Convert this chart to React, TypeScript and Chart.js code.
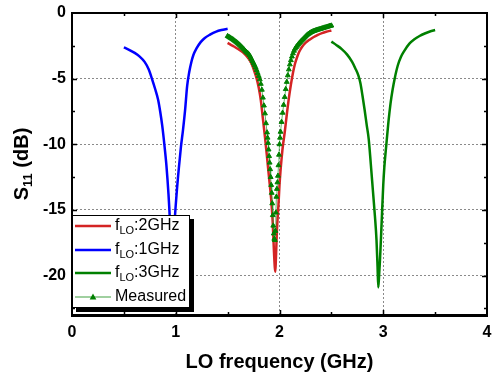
import React, { useEffect, useRef } from "react";
import { Chart, registerables } from "chart.js";

Chart.register(...registerables);

// ---- data (GHz, dB) ----
const freq2G = [1.5, 1.55, 1.6, 1.65, 1.7, 1.73, 1.76, 1.78, 1.8, 1.82, 1.84, 1.86, 1.88, 1.9, 1.92, 1.935, 1.945, 1.955, 1.96, 1.965, 1.975, 1.99, 2.0, 2.01, 2.02, 2.03, 2.05, 2.07, 2.09, 2.11, 2.13, 2.15, 2.17, 2.19, 2.22, 2.25, 2.29, 2.33, 2.37, 2.41, 2.45, 2.5];
const s11_2G = [-2.27, -2.5, -2.74, -3.02, -3.45, -3.85, -4.5, -5.0, -5.7, -6.65, -8.05, -9.45, -11.0, -12.6, -14.2, -16.0, -17.9, -19.4, -19.7, -18.8, -16.6, -14.6, -13.1, -12.0, -11.1, -10.3, -9.1, -7.75, -6.5, -5.45, -4.55, -3.85, -3.35, -2.95, -2.55, -2.28, -2.03, -1.83, -1.66, -1.53, -1.43, -1.33];

const freq1G = [0.5, 0.55, 0.6, 0.65, 0.7, 0.74, 0.77, 0.8, 0.83, 0.85, 0.87, 0.89, 0.91, 0.93, 0.945, 0.955, 0.965, 0.975, 0.99, 1.01, 1.03, 1.05, 1.07, 1.09, 1.11, 1.13, 1.15, 1.17, 1.2, 1.24, 1.28, 1.33, 1.39, 1.44, 1.5];
const s11_1G = [-2.62, -2.8, -3.02, -3.3, -3.72, -4.3, -5.0, -5.75, -6.6, -7.5, -8.6, -10.0, -11.6, -13.8, -16.0, -18.0, -19.8, -18.2, -15.8, -13.6, -11.8, -10.2, -8.9, -7.4, -5.55, -4.5, -3.75, -3.2, -2.7, -2.22, -1.9, -1.65, -1.42, -1.3, -1.2];

const freq3G = [2.5, 2.55, 2.6, 2.65, 2.7, 2.73, 2.76, 2.78, 2.8, 2.82, 2.84, 2.86, 2.88, 2.9, 2.92, 2.935, 2.945, 2.952, 2.96, 2.968, 2.98, 2.99, 3.0, 3.01, 3.03, 3.05, 3.07, 3.09, 3.11, 3.14, 3.17, 3.2, 3.25, 3.3, 3.35, 3.4, 3.45, 3.5];
const s11_3G = [-2.18, -2.45, -2.75, -3.15, -3.72, -4.2, -4.75, -5.35, -6.3, -7.35, -8.5, -9.6, -11.5, -13.5, -15.5, -17.3, -19.3, -20.9, -20.0, -18.9, -16.8, -14.9, -13.1, -11.8, -10.0, -8.3, -6.9, -5.85, -5.0, -4.0, -3.35, -2.92, -2.35, -2.0, -1.75, -1.56, -1.41, -1.3];

const freqMeas = [1.5, 1.51, 1.52, 1.53, 1.54, 1.55, 1.56, 1.57, 1.58, 1.59, 1.6, 1.61, 1.62, 1.63, 1.64, 1.65, 1.66, 1.67, 1.68, 1.69, 1.7, 1.71, 1.72, 1.73, 1.74, 1.75, 1.76, 1.77, 1.78, 1.79, 1.8, 1.81, 1.82, 1.83, 1.84, 1.85, 1.86, 1.87, 1.88, 1.885, 1.89, 1.895, 1.9, 1.905, 1.91, 1.915, 1.92, 1.925, 1.93, 1.935, 1.94, 1.945, 1.95, 1.955, 1.96, 1.965, 1.97, 1.975, 1.98, 1.985, 1.99, 1.995, 2.0, 2.005, 2.01, 2.02, 2.03, 2.04, 2.05, 2.06, 2.07, 2.08, 2.09, 2.1, 2.11, 2.12, 2.13, 2.14, 2.15, 2.16, 2.17, 2.18, 2.19, 2.2, 2.21, 2.22, 2.23, 2.24, 2.25, 2.26, 2.27, 2.28, 2.29, 2.3, 2.31, 2.32, 2.33, 2.34, 2.35, 2.36, 2.37, 2.38, 2.39, 2.4, 2.41, 2.42, 2.43, 2.44, 2.45, 2.46, 2.47, 2.48, 2.49, 2.5];
const s11Meas = [-1.76, -1.81, -1.86, -1.91, -1.96, -2.01, -2.07, -2.13, -2.19, -2.26, -2.33, -2.4, -2.47, -2.55, -2.63, -2.71, -2.79, -2.88, -2.96, -3.03, -3.1, -3.2, -3.34, -3.5, -3.66, -3.82, -3.98, -4.15, -4.35, -4.57, -4.8, -5.06, -5.4, -5.85, -6.45, -7.05, -7.65, -8.4, -9.1, -9.5, -9.9, -10.4, -10.9, -11.4, -11.9, -12.5, -13.1, -13.7, -14.5, -15.4, -16.2, -16.8, -17.2, -17.3, -16.6, -15.2, -14.0, -13.4, -12.9, -12.4, -11.6, -10.8, -10.0, -9.5, -9.05, -8.3, -7.6, -7.0, -6.4, -5.8, -5.25, -4.75, -4.3, -3.92, -3.6, -3.32, -3.08, -2.88, -2.72, -2.6, -2.5, -2.4, -2.3, -2.21, -2.12, -2.04, -1.96, -1.88, -1.8, -1.72, -1.65, -1.59, -1.54, -1.49, -1.45, -1.41, -1.38, -1.35, -1.32, -1.29, -1.27, -1.25, -1.22, -1.2, -1.17, -1.15, -1.12, -1.1, -1.08, -1.05, -1.03, -1.0, -0.98, -0.96];

const xTicks = [0, 1, 2, 3, 4];
const yTicks = [0, -5, -10, -15, -20];
const xTickMarks = [0.5, 1, 1.5, 2, 2.5, 3, 3.5];
const yTickMarks = [-2.5, -5, -7.5, -10, -12.5, -15, -17.5, -20, -22.5];

const xTitle = "LO frequency (GHz)";
const yTitleMain = "S";
const yTitleSub = "11";
const yTitleRest = " (dB)";

const legendItems = [
  { main: "f", sub: "LO", rest: ":2GHz", color: "#d42424", marker: false },
  { main: "f", sub: "LO", rest: ":1GHz", color: "#0000ff", marker: false },
  { main: "f", sub: "LO", rest: ":3GHz", color: "#008000", marker: false },
  { main: "Measured", sub: "", rest: "", color: "#80c080", marker: true },
];

const FONT = "'Liberation Sans', Arial, sans-serif";

function pts(xs: number[], ys: number[]) {
  return xs.map((v, i) => ({ x: v, y: ys[i] }));
}

function drawTriangle(ctx: CanvasRenderingContext2D, x: number, y: number, r: number) {
  ctx.beginPath();
  ctx.moveTo(x, y - r);
  ctx.lineTo(x + r * 0.95, y + r * 0.7);
  ctx.lineTo(x - r * 0.95, y + r * 0.7);
  ctx.closePath();
  ctx.fill();
}

const overlayPlugin = {
  id: "overlay",
  afterDraw(chart: any) {
    const ctx: CanvasRenderingContext2D = chart.ctx;
    const a = chart.chartArea;
    const xs = chart.scales.x;
    const ys = chart.scales.y;
    ctx.save();
    ctx.strokeStyle = "#000";
    ctx.lineWidth = 1.5;
    // inward tick marks
    for (const v of xTickMarks) {
      const px = Math.round(xs.getPixelForValue(v)) + 0.5;
      const len = Number.isInteger(v) ? 5 : 3;
      ctx.beginPath();
      ctx.moveTo(px, a.top);
      ctx.lineTo(px, a.top + len);
      ctx.moveTo(px, a.bottom);
      ctx.lineTo(px, a.bottom - len);
      ctx.stroke();
    }
    for (const v of yTickMarks) {
      const py = Math.round(ys.getPixelForValue(v)) + 0.5;
      const len = v % 5 === 0 ? 5 : 3;
      ctx.beginPath();
      ctx.moveTo(a.left, py);
      ctx.lineTo(a.left + len, py);
      ctx.moveTo(a.right, py);
      ctx.lineTo(a.right - len, py);
      ctx.stroke();
    }
    // frame
    ctx.lineWidth = 2;
    ctx.strokeRect(a.left, a.top, a.right - a.left, a.bottom - a.top);
    ctx.lineWidth = 3;
    ctx.beginPath();
    ctx.moveTo(a.left - 1, a.bottom + 0.5);
    ctx.lineTo(a.right + 1, a.bottom + 0.5);
    ctx.stroke();

    // legend
    const lx = a.left;
    const ly = 215;
    const lw = 117;
    const lh = 92;
    ctx.fillStyle = "#000";
    ctx.fillRect(lx + 4, ly + 4, lw + 1, lh + 1);
    ctx.fillStyle = "#fff";
    ctx.fillRect(lx, ly, lw, lh);
    ctx.lineWidth = 1;
    ctx.strokeStyle = "#000";
    ctx.strokeRect(lx + 0.5, ly + 0.5, lw, lh);
    const rowY = [226, 250, 273, 297];
    legendItems.forEach((it, i) => {
      const y = rowY[i];
      ctx.strokeStyle = it.color;
      ctx.lineWidth = it.marker ? 1.5 : 2.5;
      ctx.beginPath();
      ctx.moveTo(lx + 3, y);
      ctx.lineTo(lx + 39, y);
      ctx.stroke();
      if (it.marker) {
        ctx.fillStyle = "#008000";
        drawTriangle(ctx, lx + 21, y, 3.5);
      }
      ctx.fillStyle = "#000";
      ctx.textBaseline = "middle";
      ctx.textAlign = "left";
      let tx = lx + 43;
      ctx.font = `16px ${FONT}`;
      ctx.fillText(it.main, tx, y);
      tx += ctx.measureText(it.main).width;
      if (it.sub) {
        ctx.font = `11px ${FONT}`;
        ctx.fillText(it.sub, tx, y + 5);
        tx += ctx.measureText(it.sub).width;
      }
      if (it.rest) {
        ctx.font = `16px ${FONT}`;
        ctx.fillText(it.rest, tx, y);
      }
    });

    // axis titles
    ctx.fillStyle = "#000";
    ctx.font = `bold 20px ${FONT}`;
    ctx.textAlign = "center";
    ctx.textBaseline = "middle";
    ctx.fillText(xTitle, (a.left + a.right) / 2, 362);

    ctx.translate(22, (a.top + a.bottom) / 2);
    ctx.rotate(-Math.PI / 2);
    ctx.textAlign = "left";
    ctx.font = `bold 20px ${FONT}`;
    const w1 = ctx.measureText(yTitleMain).width;
    const w3 = ctx.measureText(yTitleRest).width;
    ctx.font = `bold 13px ${FONT}`;
    const w2 = ctx.measureText(yTitleSub).width;
    let t = -(w1 + w2 + w3) / 2;
    ctx.font = `bold 20px ${FONT}`;
    ctx.fillText(yTitleMain, t, 0);
    t += w1;
    ctx.font = `bold 13px ${FONT}`;
    ctx.fillText(yTitleSub, t, 6);
    t += w2;
    ctx.font = `bold 20px ${FONT}`;
    ctx.fillText(yTitleRest, t, 0);
    ctx.restore();
  },
};

export default function App() {
  const ref = useRef<HTMLCanvasElement | null>(null);
  useEffect(() => {
    if (!ref.current) return;
    Chart.defaults.font.family = FONT;
    const chart = new Chart(ref.current, {
      type: "scatter",
      data: {
        datasets: [
          {
            label: "Measured",
            data: pts(freqMeas, s11Meas),
            showLine: true,
            borderColor: "rgba(40,150,40,0.7)",
            borderWidth: 1,
            pointStyle: "triangle",
            pointRadius: 2.8,
            pointBackgroundColor: "#008000",
            pointBorderColor: "#008000",
            pointBorderWidth: 1,
          },
          {
            label: "fLO:2GHz",
            data: pts(freq2G, s11_2G),
            showLine: true,
            borderColor: "#d42424",
            borderWidth: 2.5,
            pointRadius: 0,
            cubicInterpolationMode: "monotone",
          },
          {
            label: "fLO:1GHz",
            data: pts(freq1G, s11_1G),
            showLine: true,
            borderColor: "#0000ff",
            borderWidth: 2.5,
            pointRadius: 0,
            cubicInterpolationMode: "monotone",
          },
          {
            label: "fLO:3GHz",
            data: pts(freq3G, s11_3G),
            showLine: true,
            borderColor: "#008000",
            borderWidth: 2.5,
            pointRadius: 0,
            cubicInterpolationMode: "monotone",
          },
        ],
      },
      options: {
        animation: false,
        responsive: false,
        maintainAspectRatio: false,
        layout: { padding: { left: 0, right: 4, top: 13, bottom: 0 } },
        plugins: { legend: { display: false }, tooltip: { enabled: false } },
        scales: {
          x: {
            type: "linear",
            min: 0,
            max: 4,
            afterBuildTicks: (s: any) => {
              s.ticks = xTicks.map((v) => ({ value: v }));
            },
            afterFit: (s: any) => {
              s.height = 63;
              s.paddingLeft = 0;
              s.paddingRight = 0;
            },
            ticks: {
              color: "#000",
              font: { size: 16, weight: "bold" },
              padding: 8,
              maxRotation: 0,
            },
            grid: { color: "#8a8a8a", lineWidth: 1, drawTicks: false },
            border: { display: false, dash: [2, 2] },
          },
          y: {
            type: "linear",
            min: -23,
            max: 0,
            afterBuildTicks: (s: any) => {
              s.ticks = yTicks.map((v) => ({ value: v }));
            },
            afterFit: (s: any) => {
              s.width = 72;
              s.paddingTop = 0;
              s.paddingBottom = 0;
            },
            ticks: {
              color: "#000",
              font: { size: 16, weight: "bold" },
              padding: 6,
            },
            grid: { color: "#8a8a8a", lineWidth: 1, drawTicks: false },
            border: { display: false, dash: [2, 2] },
          },
        },
      },
      plugins: [overlayPlugin],
    } as any);
    return () => chart.destroy();
  }, []);
  return (
    <div style={{ position: "absolute", left: 0, top: 0, width: 492, height: 378, background: "#fff" }}>
      <canvas ref={ref} width={492} height={378} style={{ width: 492, height: 378, display: "block" }} />
    </div>
  );
}
